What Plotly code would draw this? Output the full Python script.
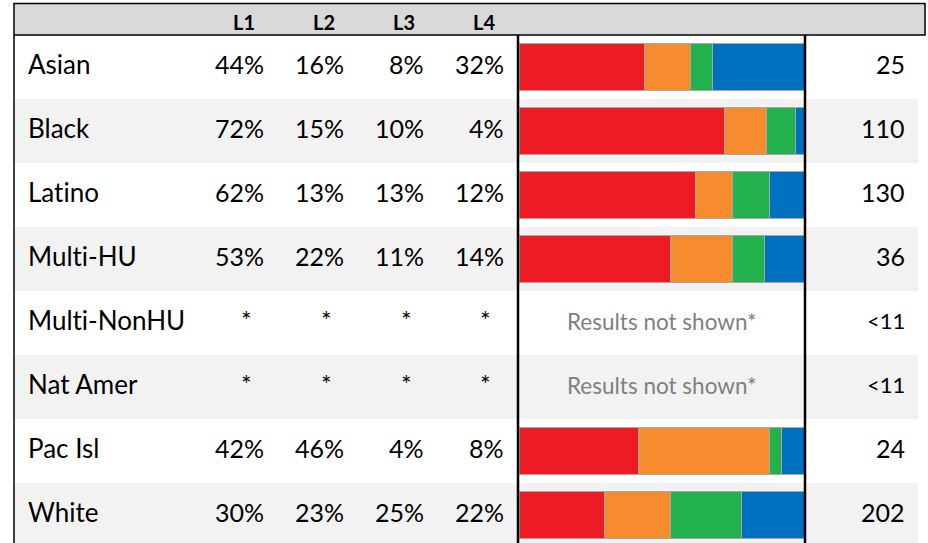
import plotly.graph_objects as go

groups = ["Asian", "Black", "Latino", "Multi-HU", "Multi-NonHU", "Nat Amer", "Pac Isl", "White"]
levels = ["L1", "L2", "L3", "L4"]
l1 = [44, 72, 62, 53, None, None, 42, 30]
l2 = [16, 15, 13, 22, None, None, 46, 23]
l3 = [8, 10, 13, 11, None, None, 4, 25]
l4 = [32, 4, 12, 14, None, None, 8, 22]
counts = ["25", "110", "130", "36", "<11", "<11", "24", "202"]
colors = ["#ED1C24", "#F68B2F", "#22B14C", "#0070C0"]
hidden_note = "Results not shown*"

W, H = 928, 543
FONT = "Lato"
YS = 3  # vertical nudge for text


def px(x):
    return x / W


def py(y):
    return 1 - y / H


def no_lig(s):
    # break the "ti" ligature so the text looks like the original
    return s.replace("ti", "t\u200ci")


series = [l1, l2, l3, l4]
fig = go.Figure()
for name, vals, col in zip(levels, series, colors):
    fig.add_trace(go.Bar(
        x=vals, y=groups, orientation="h", name=name,
        marker=dict(color=col, line=dict(color="#A6A6A6", width=1)),
        hoverinfo="skip",
    ))

shapes = []
# alternating row bands
for i, g in enumerate(groups):
    if i % 2 == 1:
        shapes.append(dict(type="rect", xref="paper", yref="y",
                           x0=px(14), x1=px(918), y0=i - 0.5, y1=i + 0.5,
                           fillcolor="#F2F2F2", line=dict(width=0), layer="below"))
# header band
shapes.append(dict(type="rect", xref="paper", yref="paper",
                   x0=px(14), x1=px(925), y0=py(35), y1=py(3.5),
                   fillcolor="#D9D9D9", line=dict(color="black", width=1.5), layer="below"))
# left border
shapes.append(dict(type="line", xref="paper", yref="paper",
                   x0=px(14), x1=px(14), y0=py(35), y1=0,
                   line=dict(color="black", width=1.5)))
# chart column borders
for xx in (518, 805):
    shapes.append(dict(type="line", xref="paper", yref="paper",
                       x0=px(xx), x1=px(xx), y0=py(35), y1=0,
                       line=dict(color="black", width=2.5)))

ann = []
col_right = [266, 346, 426, 506]
for k, lv in enumerate(levels):
    ann.append(dict(text="<b>" + lv + "</b>", xref="paper", yref="paper",
                    x=px(col_right[k] - 22), y=py(22), xanchor="center", yanchor="middle",
                    showarrow=False, font=dict(family=FONT, size=20, color="black")))

for i, g in enumerate(groups):
    ann.append(dict(text=no_lig(g), xref="paper", yref="y", x=px(26), y=g, yshift=YS,
                    xanchor="left", yanchor="middle", showarrow=False,
                    font=dict(family=FONT, size=26, color="black")))
    for k, vals in enumerate(series):
        v = vals[i]
        if v is None:
            ann.append(dict(text="*", xref="paper", yref="y", x=px(col_right[k] - 20), y=g,
                            yshift=YS, xanchor="center", yanchor="middle", showarrow=False,
                            font=dict(family=FONT, size=25, color="black")))
        else:
            ann.append(dict(text=f"{v}%", xref="paper", yref="y", x=px(col_right[k]), y=g,
                            yshift=YS, xanchor="right", yanchor="middle", showarrow=False,
                            font=dict(family=FONT, size=25, color="black")))
    if l1[i] is None:
        ann.append(dict(text=hidden_note, xref="x", yref="y", x=50, y=g, yshift=2,
                        xanchor="center", yanchor="middle", showarrow=False,
                        font=dict(family=FONT, size=22.5, color="#7F7F7F")))
    small = counts[i].startswith("<")
    ann.append(dict(text=counts[i], xref="paper", yref="y", x=px(907), y=g, yshift=YS,
                    xanchor="right", yanchor="middle", showarrow=False,
                    font=dict(family=FONT, size=22 if small else 25, color="black")))

fig.update_layout(
    width=W, height=H, margin=dict(l=0, r=0, t=0, b=0),
    paper_bgcolor="white", plot_bgcolor="rgba(0,0,0,0)",
    barmode="stack", bargap=1 - 47 / 64, showlegend=False,
    xaxis=dict(domain=[px(519), px(804)], range=[0, 100], visible=False, fixedrange=True),
    yaxis=dict(domain=[0, py(35)], type="category", categoryorder="array",
               categoryarray=groups, range=[7.4375, -0.5], visible=False, fixedrange=True),
    shapes=shapes, annotations=ann,
)

fig.write_html("out.html", config={"displayModeBar": False},
               post_script="document.body.style.margin='0';document.body.style.overflow='hidden';")
